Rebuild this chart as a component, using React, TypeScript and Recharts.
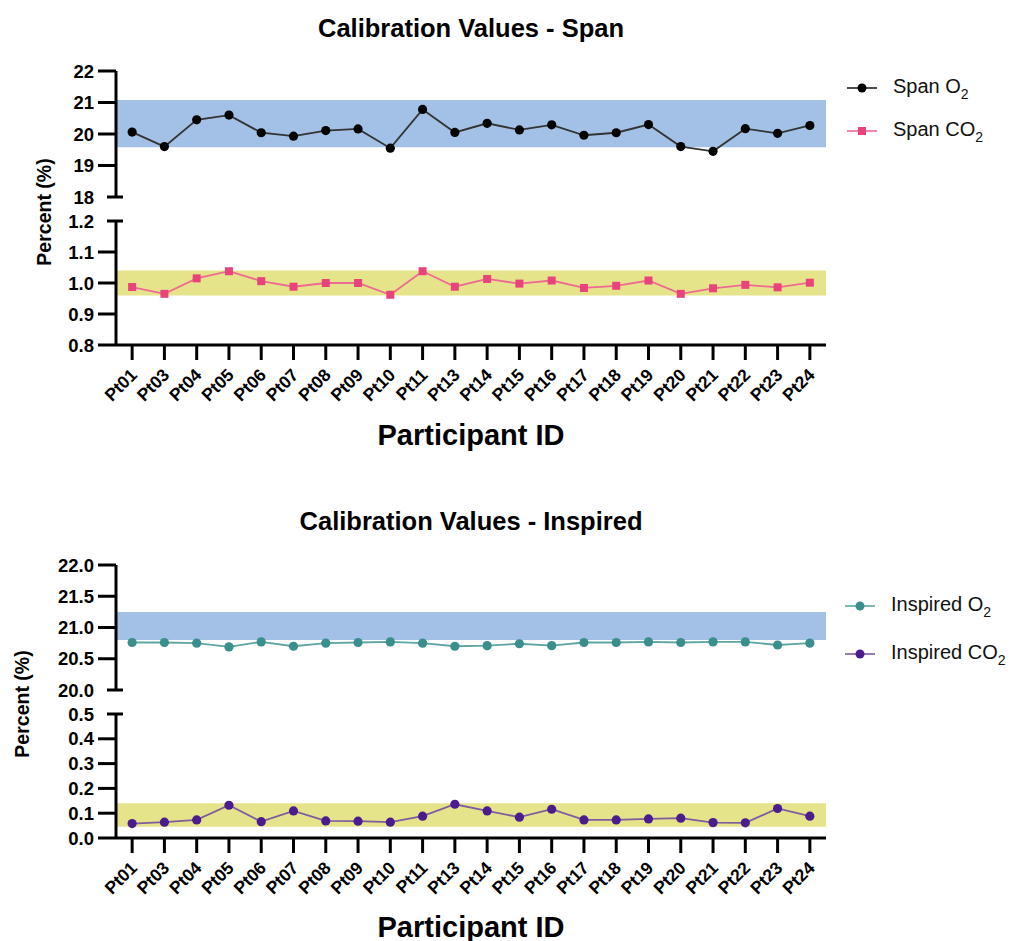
import { LineChart, Line, XAxis, YAxis, ReferenceArea } from 'recharts';

// Participant IDs along the x axis
const participants = [
  'Pt01', 'Pt03', 'Pt04', 'Pt05', 'Pt06', 'Pt07', 'Pt08', 'Pt09', 'Pt10', 'Pt11', 'Pt13',
  'Pt14', 'Pt15', 'Pt16', 'Pt17', 'Pt18', 'Pt19', 'Pt20', 'Pt21', 'Pt22', 'Pt23', 'Pt24',
];

// Span calibration (%)
const spanO2 = [
  20.06, 19.6, 20.45, 20.6, 20.04, 19.93, 20.11, 20.16, 19.55, 20.78, 20.05,
  20.34, 20.13, 20.29, 19.96, 20.04, 20.3, 19.6, 19.45, 20.17, 20.02, 20.27,
];
const spanCO2 = [
  0.987, 0.965, 1.015, 1.038, 1.006, 0.988, 1.0, 1.0, 0.962, 1.038, 0.988,
  1.013, 0.998, 1.008, 0.984, 0.991, 1.008, 0.965, 0.983, 0.994, 0.986, 1.001,
];

// Inspired calibration (%)
const inspiredO2 = [
  20.76, 20.76, 20.75, 20.69, 20.77, 20.7, 20.75, 20.76, 20.77, 20.75, 20.7,
  20.71, 20.74, 20.71, 20.76, 20.76, 20.77, 20.76, 20.77, 20.77, 20.72, 20.75,
];
const inspiredCO2 = [
  0.058, 0.064, 0.073, 0.132, 0.066, 0.109, 0.069, 0.068, 0.064, 0.088, 0.136,
  0.109, 0.084, 0.116, 0.073, 0.073, 0.077, 0.08, 0.062, 0.061, 0.119, 0.088,
];

// Tick values
const spanO2Ticks = [18, 19, 20, 21, 22];
const spanCO2Ticks = [0.8, 0.9, 1.0, 1.1, 1.2];
const inspiredO2Ticks = [20.0, 20.5, 21.0, 21.5, 22.0];
const inspiredCO2Ticks = [0.0, 0.1, 0.2, 0.3, 0.4, 0.5];

// Acceptable ranges (shaded bands)
const spanO2Range = [19.58, 21.08];
const spanCO2Range = [0.96, 1.04];
const inspiredO2Range = [20.8, 21.25];
const inspiredCO2Range = [0.045, 0.14];

const data = participants.map((id, i) => ({
  idx: i,
  id,
  spanO2: spanO2[i],
  spanCO2: spanCO2[i],
  inspiredO2: inspiredO2[i],
  inspiredCO2: inspiredCO2[i],
}));
const xTicks = participants.map((_, i) => i);

const FONT = '"Liberation Sans", Arial, Helvetica, sans-serif';
const BLUE_BAND = '#a3c0e6';
const YELLOW_BAND = '#e6e48a';
const CHART_W = 840;
const AXIS_X = 116;
const PLOT_RIGHT = 826;
const X_AXIS_H = 70;

const SquareDot = ({ cx, cy, fill }: any) => {
  if (cx == null || cy == null) return null;
  return <rect x={cx - 4} y={cy - 4} width={8} height={8} fill={fill} />;
};

const makeYTick = (decimals: number, capValue: number) => (props: any) => {
  const { x, y, payload } = props;
  const isCap = Math.abs(payload.value - capValue) < 1e-9;
  return (
    <g>
      {isCap ? (
        <line x1={x - 9} x2={x + 7} y1={y} y2={y} stroke="#000" strokeWidth={3} />
      ) : (
        <line x1={x - 18} x2={x} y1={y} y2={y} stroke="#000" strokeWidth={3} />
      )}
      <text
        x={x - 22}
        y={y}
        dy="0.36em"
        textAnchor="end"
        fontFamily={FONT}
        fontSize={18.5}
        fontWeight={700}
        fill="#000"
      >
        {payload.value.toFixed(decimals)}
      </text>
    </g>
  );
};

const XTick = ({ x, y, payload }: any) => {
  const ax = x + 6;
  const ay = y + 14;
  return (
    <text
      x={ax}
      y={ay}
      transform={`rotate(-45, ${ax}, ${ay})`}
      textAnchor="end"
      fontFamily={FONT}
      fontSize={17.5}
      fontWeight={700}
      fill="#000"
    >
      {participants[payload.value]}
    </text>
  );
};

interface SubPlotProps {
  plotTop: number;
  plotBottom: number;
  dataKey: string;
  ticks: number[];
  decimals: number;
  capValue: number;
  band: number[];
  bandColor: string;
  lineColor: string;
  dotColor: string;
  square?: boolean;
  showX?: boolean;
}

const SubPlot = ({
  plotTop, plotBottom, dataKey, ticks, decimals, capValue, band, bandColor,
  lineColor, dotColor, square, showX,
}: SubPlotProps) => {
  const marginTop = 12;
  const marginBottom = showX ? 4 : 12;
  const height = marginTop + (plotBottom - plotTop) + (showX ? X_AXIS_H : 0) + marginBottom;
  return (
    <div style={{ position: 'absolute', left: 0, top: plotTop - marginTop }}>
      <LineChart
        width={CHART_W}
        height={height}
        data={data}
        margin={{ top: marginTop, right: CHART_W - PLOT_RIGHT, bottom: marginBottom, left: 0 }}
      >
        <ReferenceArea y1={band[0]} y2={band[1]} fill={bandColor} fillOpacity={1} stroke="none" ifOverflow="hidden" />
        <XAxis
          dataKey="idx"
          type="number"
          domain={[-0.5, participants.length - 0.5]}
          ticks={xTicks}
          allowDataOverflow
          hide={!showX}
          height={X_AXIS_H}
          interval={0}
          tickSize={15}
          tickMargin={2}
          axisLine={{ stroke: '#000', strokeWidth: 3 }}
          tickLine={{ stroke: '#000', strokeWidth: 3 }}
          tick={<XTick />}
        />
        <YAxis
          width={AXIS_X}
          domain={[ticks[0], ticks[ticks.length - 1]]}
          ticks={ticks}
          type="number"
          allowDataOverflow
          interval={0}
          tickSize={0}
          tickMargin={0}
          tickLine={false}
          axisLine={{ stroke: '#000', strokeWidth: 3 }}
          tick={makeYTick(decimals, capValue)}
        />
        <Line
          type="linear"
          dataKey={dataKey}
          stroke={lineColor}
          strokeWidth={1.8}
          dot={square ? <SquareDot fill={dotColor} /> : { r: 4.6, fill: dotColor, stroke: dotColor, strokeWidth: 0 }}
          isAnimationActive={false}
        />
      </LineChart>
    </div>
  );
};

const Sub = ({ children }: any) => (
  <span style={{ fontSize: 14, verticalAlign: -6 }}>{children}</span>
);

const LegendItem = ({ x, y, color, dotColor, square, label }: any) => (
  <div style={{ position: 'absolute', left: x, top: y - 14, height: 28, display: 'flex', alignItems: 'center' }}>
    <svg width={32} height={12} style={{ marginRight: 15 }}>
      <line x1={1} x2={31} y1={6} y2={6} stroke={color} strokeWidth={1.6} />
      {square ? (
        <rect x={12} y={2} width={8} height={8} fill={dotColor} />
      ) : (
        <circle cx={16} cy={6} r={4.5} fill={dotColor} />
      )}
    </svg>
    <span style={{ fontSize: 20, fontFamily: FONT, color: '#111', whiteSpace: 'nowrap' }}>{label}</span>
  </div>
);

const textStyle = (size: number): any => ({
  position: 'absolute',
  fontFamily: FONT,
  fontWeight: 700,
  fontSize: size,
  color: '#000',
  whiteSpace: 'nowrap',
  transform: 'translate(-50%, -50%)',
});

export default function App() {
  return (
    <div style={{ position: 'absolute', left: 0, top: 0, width: 1018, height: 941, background: '#fff', overflow: 'hidden', fontFamily: FONT }}>
      {/* Span panel */}
      <div style={{ ...textStyle(25.5), left: 471, top: 28 }}>Calibration Values - Span</div>
      <div style={{ ...textStyle(19.5), left: 44, top: 212, transform: 'translate(-50%, -50%) rotate(-90deg)' }}>Percent (%)</div>
      <SubPlot
        plotTop={71} plotBottom={197} dataKey="spanO2" ticks={spanO2Ticks} decimals={0} capValue={18}
        band={spanO2Range} bandColor={BLUE_BAND} lineColor="#333" dotColor="#000"
      />
      <SubPlot
        plotTop={221} plotBottom={345} dataKey="spanCO2" ticks={spanCO2Ticks} decimals={1} capValue={1.2}
        band={spanCO2Range} bandColor={YELLOW_BAND} lineColor="#ee6a93" dotColor="#e8437b" square showX
      />
      <div style={{ ...textStyle(29), left: 471, top: 435 }}>Participant ID</div>
      <LegendItem x={846} y={88} color="#222" dotColor="#000" label={<>Span O<Sub>2</Sub></>} />
      <LegendItem x={846} y={131} color="#ee6a93" dotColor="#e8437b" square label={<>Span CO<Sub>2</Sub></>} />

      {/* Inspired panel */}
      <div style={{ ...textStyle(25.5), left: 471, top: 521 }}>Calibration Values - Inspired</div>
      <div style={{ ...textStyle(19.5), left: 22, top: 704, transform: 'translate(-50%, -50%) rotate(-90deg)' }}>Percent (%)</div>
      <SubPlot
        plotTop={565} plotBottom={690} dataKey="inspiredO2" ticks={inspiredO2Ticks} decimals={1} capValue={20}
        band={inspiredO2Range} bandColor={BLUE_BAND} lineColor="#5fa5a2" dotColor="#3a8f8c"
      />
      <SubPlot
        plotTop={714} plotBottom={838} dataKey="inspiredCO2" ticks={inspiredCO2Ticks} decimals={1} capValue={0.5}
        band={inspiredCO2Range} bandColor={YELLOW_BAND} lineColor="#7e5c9e" dotColor="#4b1c8e" showX
      />
      <div style={{ ...textStyle(29), left: 471, top: 927 }}>Participant ID</div>
      <LegendItem x={844} y={606} color="#5fa5a2" dotColor="#3a8f8c" label={<>Inspired O<Sub>2</Sub></>} />
      <LegendItem x={844} y={654} color="#7e5c9e" dotColor="#4b1c8e" label={<>Inspired CO<Sub>2</Sub></>} />
    </div>
  );
}
